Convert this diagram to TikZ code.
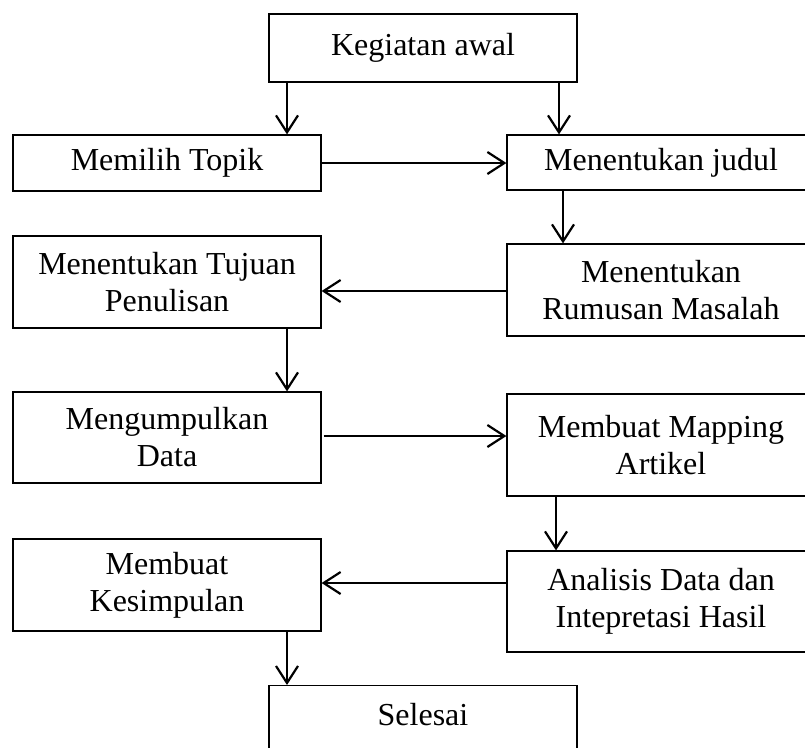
\documentclass[tikz,border=0pt]{standalone}
\usepackage{fontspec}
\setmainfont{Liberation Serif}
\usetikzlibrary{arrows.meta}
\begin{document}
\begin{tikzpicture}[x=1pt,y=-1pt,
  box/.style={draw=black, line width=1.2pt, minimum width=308pt, align=center,
    inner sep=0pt, font=\fontsize{32}{37}\selectfont},
  arr/.style={line width=2.2pt, -{Straight Barb[length=17pt,width=22pt,line width=2.2pt]}}]
\useasboundingbox (0,0) rectangle (805,747);
\clip (0,0) rectangle (805,747);
\node[box, minimum height=68pt] (keg) at (423,48) {Kegiatan awal};
\node[box, minimum height=56pt] (mem) at (167,163) {Memilih Topik};
\node[box, minimum height=55pt] (jud) at (661,162.5) {Menentukan judul};
\node[box, minimum height=92pt] (tuj) at (167,282) {Menentukan Tujuan\\Penulisan};
\node[box, minimum height=92pt] (rum) at (661,290) {Menentukan\\Rumusan Masalah};
\node[box, minimum height=91pt] (kum) at (167,437.5) {Mengumpulkan\\Data};
\node[box, minimum height=102pt] (map) at (661,445) {Membuat Mapping\\Artikel};
\node[box, minimum height=92pt] (kes) at (167,585) {Membuat\\Kesimpulan};
\node[box, minimum height=101pt] (ana) at (661,601.5) {Analisis Data dan\\Intepretasi Hasil};
\node[box, anchor=north, text height=22pt, text depth=60pt, inner ysep=18pt] (sel) at (423,685) {Selesai};
\draw[arr] (287,0 |- keg.south) -- (287,0 |- mem.north);
\draw[arr] (559,0 |- keg.south) -- (559,0 |- jud.north);
\draw[arr] (mem.east |- 0,163) -- (jud.west |- 0,163);
\draw[arr] (563,0 |- jud.south) -- (563,0 |- rum.north);
\draw[arr] (rum.west |- 0,291) -- (tuj.east |- 0,291);
\draw[arr] (287,0 |- tuj.south) -- (287,0 |- kum.north);
\draw[arr] ([xshift=2pt]kum.east |- 0,436) -- (map.west |- 0,436);
\draw[arr] (556,0 |- map.south) -- (556,0 |- ana.north);
\draw[arr] (ana.west |- 0,583) -- (kes.east |- 0,583);
\draw[arr] (287,0 |- kes.south) -- (287,0 |- sel.north);
\end{tikzpicture}
\end{document}
